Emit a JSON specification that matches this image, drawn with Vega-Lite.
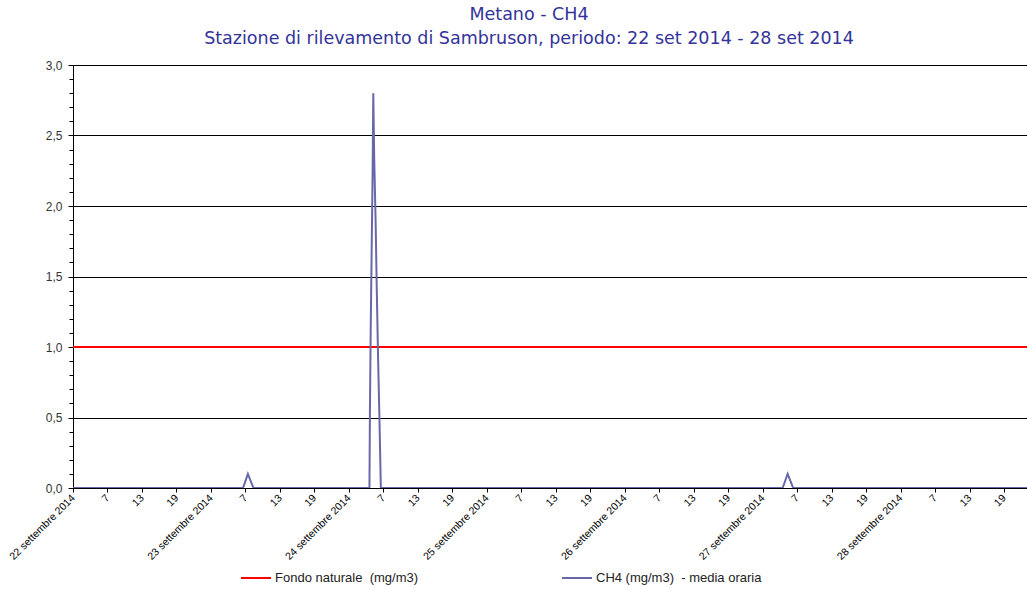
{
  "$schema": "https://vega.github.io/schema/vega-lite/v6.json",
  "width": 954,
  "height": 423,
  "autosize": "none",
  "padding": {"left": 73, "top": 65, "right": 0, "bottom": 102},
  "background": "white",
  "config": {"view": {"stroke": null}, "font": "Liberation Sans"},
  "title": {
    "text": ["Metano - CH4", "Stazione di rilevamento di Sambruson, periodo: 22 set 2014 - 28 set 2014"],
    "anchor": "middle",
    "frame": "group",
    "dx": -21,
    "fontSize": 17.5,
    "font": "DejaVu Sans",
    "fontWeight": "normal",
    "color": "#333399",
    "lineHeight": 24,
    "offset": 12
  },
  "encoding": {
    "x": {
      "field": "t",
      "type": "temporal",
      "scale": {"type": "utc", "domain": [{"year": 2014, "month": 9, "date": 22, "hours": 1, "utc": true}, {"year": 2014, "month": 9, "date": 28, "hours": 23, "utc": true}]},
      "axis": {
        "title": null,
        "grid": false,
        "values": [
          {"year": 2014, "month": 9, "date": 22, "hours": 1, "utc": true}, {"year": 2014, "month": 9, "date": 22, "hours": 7, "utc": true}, {"year": 2014, "month": 9, "date": 22, "hours": 13, "utc": true}, {"year": 2014, "month": 9, "date": 22, "hours": 19, "utc": true},
          {"year": 2014, "month": 9, "date": 23, "hours": 1, "utc": true}, {"year": 2014, "month": 9, "date": 23, "hours": 7, "utc": true}, {"year": 2014, "month": 9, "date": 23, "hours": 13, "utc": true}, {"year": 2014, "month": 9, "date": 23, "hours": 19, "utc": true},
          {"year": 2014, "month": 9, "date": 24, "hours": 1, "utc": true}, {"year": 2014, "month": 9, "date": 24, "hours": 7, "utc": true}, {"year": 2014, "month": 9, "date": 24, "hours": 13, "utc": true}, {"year": 2014, "month": 9, "date": 24, "hours": 19, "utc": true},
          {"year": 2014, "month": 9, "date": 25, "hours": 1, "utc": true}, {"year": 2014, "month": 9, "date": 25, "hours": 7, "utc": true}, {"year": 2014, "month": 9, "date": 25, "hours": 13, "utc": true}, {"year": 2014, "month": 9, "date": 25, "hours": 19, "utc": true},
          {"year": 2014, "month": 9, "date": 26, "hours": 1, "utc": true}, {"year": 2014, "month": 9, "date": 26, "hours": 7, "utc": true}, {"year": 2014, "month": 9, "date": 26, "hours": 13, "utc": true}, {"year": 2014, "month": 9, "date": 26, "hours": 19, "utc": true},
          {"year": 2014, "month": 9, "date": 27, "hours": 1, "utc": true}, {"year": 2014, "month": 9, "date": 27, "hours": 7, "utc": true}, {"year": 2014, "month": 9, "date": 27, "hours": 13, "utc": true}, {"year": 2014, "month": 9, "date": 27, "hours": 19, "utc": true},
          {"year": 2014, "month": 9, "date": 28, "hours": 1, "utc": true}, {"year": 2014, "month": 9, "date": 28, "hours": 7, "utc": true}, {"year": 2014, "month": 9, "date": 28, "hours": 13, "utc": true}, {"year": 2014, "month": 9, "date": 28, "hours": 19, "utc": true}
        ],
        "labelExpr": "utchours(datum.value) == 1 ? utcdate(datum.value) + ' settembre 2014' : '' + utchours(datum.value)",
        "labelAngle": -45,
        "labelAlign": "right",
        "labelBaseline": "middle",
        "labelFontSize": 10.5,
        "labelColor": "#000000",
        "labelPadding": 4,
        "labelOverlap": false,
        "labelFlush": false,
        "labelBound": false,
        "tickColor": "#000000",
        "tickSize": 4,
        "domainColor": "#000000"
      }
    }
  },
  "layer": [
    {
      "data": {"values": [
        {"t": "2014-09-22T00:00Z", "v": 1},
        {"t": "2014-09-29T00:00Z", "v": 1}
      ]},
      "mark": {"type": "line", "strokeWidth": 2, "clip": true},
      "encoding": {
        "y": {
          "field": "v", "type": "quantitative",
          "scale": {"domain": [0, 3], "nice": false, "zero": true},
          "axis": {
            "orient": "left", "title": null, "labels": false, "grid": false, "domain": false,
            "values": [0, 0.1, 0.2, 0.3, 0.4, 0.5, 0.6, 0.7, 0.8, 0.9, 1, 1.1, 1.2, 1.3, 1.4, 1.5, 1.6, 1.7, 1.8, 1.9, 2, 2.1, 2.2, 2.3, 2.4, 2.5, 2.6, 2.7, 2.8, 2.9, 3],
            "tickColor": "#000000", "tickSize": 4
          }
        },
        "color": {
          "datum": "Fondo naturale \u00a0(mg/m3)",
          "type": "nominal",
          "scale": {"domain": ["Fondo naturale \u00a0(mg/m3)", "CH4 (mg/m3) \u00a0- media oraria"], "range": ["#FF0000", "#6868A8"]},
          "legend": {
            "orient": "none", "legendX": 167, "legendY": 497, "direction": "horizontal", "columns": 2,
            "title": null, "symbolType": "stroke", "symbolSize": 900, "symbolStrokeWidth": 2,
            "labelFontSize": 13, "labelColor": "#222222", "columnPadding": 139, "labelOffset": 3, "labelLimit": 400
          }
        }
      }
    },
    {
      "data": {"values": [
        {"t": "2014-09-22T01:00Z", "v": 0}, {"t": "2014-09-22T02:00Z", "v": 0}, {"t": "2014-09-22T03:00Z", "v": 0}, {"t": "2014-09-22T04:00Z", "v": 0}, {"t": "2014-09-22T05:00Z", "v": 0}, {"t": "2014-09-22T06:00Z", "v": 0}, {"t": "2014-09-22T07:00Z", "v": 0}, {"t": "2014-09-22T08:00Z", "v": 0}, {"t": "2014-09-22T09:00Z", "v": 0}, {"t": "2014-09-22T10:00Z", "v": 0}, {"t": "2014-09-22T11:00Z", "v": 0}, {"t": "2014-09-22T12:00Z", "v": 0}, {"t": "2014-09-22T13:00Z", "v": 0}, {"t": "2014-09-22T14:00Z", "v": 0}, {"t": "2014-09-22T15:00Z", "v": 0}, {"t": "2014-09-22T16:00Z", "v": 0}, {"t": "2014-09-22T17:00Z", "v": 0}, {"t": "2014-09-22T18:00Z", "v": 0}, {"t": "2014-09-22T19:00Z", "v": 0}, {"t": "2014-09-22T20:00Z", "v": 0}, {"t": "2014-09-22T21:00Z", "v": 0}, {"t": "2014-09-22T22:00Z", "v": 0}, {"t": "2014-09-22T23:00Z", "v": 0},
        {"t": "2014-09-23T00:00Z", "v": 0}, {"t": "2014-09-23T01:00Z", "v": 0}, {"t": "2014-09-23T02:00Z", "v": 0}, {"t": "2014-09-23T03:00Z", "v": 0}, {"t": "2014-09-23T04:00Z", "v": 0}, {"t": "2014-09-23T05:00Z", "v": 0}, {"t": "2014-09-23T06:00Z", "v": 0}, {"t": "2014-09-23T06:35Z", "v": 0}, {"t": "2014-09-23T07:26Z", "v": 0.1}, {"t": "2014-09-23T08:24Z", "v": 0}, {"t": "2014-09-23T09:00Z", "v": 0}, {"t": "2014-09-23T10:00Z", "v": 0}, {"t": "2014-09-23T11:00Z", "v": 0}, {"t": "2014-09-23T12:00Z", "v": 0}, {"t": "2014-09-23T13:00Z", "v": 0}, {"t": "2014-09-23T14:00Z", "v": 0}, {"t": "2014-09-23T15:00Z", "v": 0}, {"t": "2014-09-23T16:00Z", "v": 0}, {"t": "2014-09-23T17:00Z", "v": 0}, {"t": "2014-09-23T18:00Z", "v": 0}, {"t": "2014-09-23T19:00Z", "v": 0}, {"t": "2014-09-23T20:00Z", "v": 0}, {"t": "2014-09-23T21:00Z", "v": 0}, {"t": "2014-09-23T22:00Z", "v": 0}, {"t": "2014-09-23T23:00Z", "v": 0},
        {"t": "2014-09-24T00:00Z", "v": 0}, {"t": "2014-09-24T01:00Z", "v": 0}, {"t": "2014-09-24T02:00Z", "v": 0}, {"t": "2014-09-24T03:00Z", "v": 0}, {"t": "2014-09-24T04:00Z", "v": 0}, {"t": "2014-09-24T04:35Z", "v": 0}, {"t": "2014-09-24T04:40Z", "v": 0.55}, {"t": "2014-09-24T04:48Z", "v": 1.11}, {"t": "2014-09-24T04:58Z", "v": 1.68}, {"t": "2014-09-24T05:08Z", "v": 2.23}, {"t": "2014-09-24T05:15Z", "v": 2.8}, {"t": "2014-09-24T05:25Z", "v": 2.33}, {"t": "2014-09-24T05:40Z", "v": 1.87}, {"t": "2014-09-24T05:52Z", "v": 1.39}, {"t": "2014-09-24T06:05Z", "v": 0.93}, {"t": "2014-09-24T06:20Z", "v": 0.47}, {"t": "2014-09-24T06:34Z", "v": 0}, {"t": "2014-09-24T07:00Z", "v": 0}, {"t": "2014-09-24T08:00Z", "v": 0}, {"t": "2014-09-24T09:00Z", "v": 0}, {"t": "2014-09-24T10:00Z", "v": 0}, {"t": "2014-09-24T11:00Z", "v": 0}, {"t": "2014-09-24T12:00Z", "v": 0}, {"t": "2014-09-24T13:00Z", "v": 0}, {"t": "2014-09-24T14:00Z", "v": 0}, {"t": "2014-09-24T15:00Z", "v": 0}, {"t": "2014-09-24T16:00Z", "v": 0}, {"t": "2014-09-24T17:00Z", "v": 0}, {"t": "2014-09-24T18:00Z", "v": 0}, {"t": "2014-09-24T19:00Z", "v": 0}, {"t": "2014-09-24T20:00Z", "v": 0}, {"t": "2014-09-24T21:00Z", "v": 0}, {"t": "2014-09-24T22:00Z", "v": 0}, {"t": "2014-09-24T23:00Z", "v": 0},
        {"t": "2014-09-25T00:00Z", "v": 0}, {"t": "2014-09-25T01:00Z", "v": 0}, {"t": "2014-09-25T02:00Z", "v": 0}, {"t": "2014-09-25T03:00Z", "v": 0}, {"t": "2014-09-25T04:00Z", "v": 0}, {"t": "2014-09-25T05:00Z", "v": 0}, {"t": "2014-09-25T06:00Z", "v": 0}, {"t": "2014-09-25T07:00Z", "v": 0}, {"t": "2014-09-25T08:00Z", "v": 0}, {"t": "2014-09-25T09:00Z", "v": 0}, {"t": "2014-09-25T10:00Z", "v": 0}, {"t": "2014-09-25T11:00Z", "v": 0}, {"t": "2014-09-25T12:00Z", "v": 0}, {"t": "2014-09-25T13:00Z", "v": 0}, {"t": "2014-09-25T14:00Z", "v": 0}, {"t": "2014-09-25T15:00Z", "v": 0}, {"t": "2014-09-25T16:00Z", "v": 0}, {"t": "2014-09-25T17:00Z", "v": 0}, {"t": "2014-09-25T18:00Z", "v": 0}, {"t": "2014-09-25T19:00Z", "v": 0}, {"t": "2014-09-25T20:00Z", "v": 0}, {"t": "2014-09-25T21:00Z", "v": 0}, {"t": "2014-09-25T22:00Z", "v": 0}, {"t": "2014-09-25T23:00Z", "v": 0},
        {"t": "2014-09-26T00:00Z", "v": 0}, {"t": "2014-09-26T01:00Z", "v": 0}, {"t": "2014-09-26T02:00Z", "v": 0}, {"t": "2014-09-26T03:00Z", "v": 0}, {"t": "2014-09-26T04:00Z", "v": 0}, {"t": "2014-09-26T05:00Z", "v": 0}, {"t": "2014-09-26T06:00Z", "v": 0}, {"t": "2014-09-26T07:00Z", "v": 0}, {"t": "2014-09-26T08:00Z", "v": 0}, {"t": "2014-09-26T09:00Z", "v": 0}, {"t": "2014-09-26T10:00Z", "v": 0}, {"t": "2014-09-26T11:00Z", "v": 0}, {"t": "2014-09-26T12:00Z", "v": 0}, {"t": "2014-09-26T13:00Z", "v": 0}, {"t": "2014-09-26T14:00Z", "v": 0}, {"t": "2014-09-26T15:00Z", "v": 0}, {"t": "2014-09-26T16:00Z", "v": 0}, {"t": "2014-09-26T17:00Z", "v": 0}, {"t": "2014-09-26T18:00Z", "v": 0}, {"t": "2014-09-26T19:00Z", "v": 0}, {"t": "2014-09-26T20:00Z", "v": 0}, {"t": "2014-09-26T21:00Z", "v": 0}, {"t": "2014-09-26T22:00Z", "v": 0}, {"t": "2014-09-26T23:00Z", "v": 0},
        {"t": "2014-09-27T00:00Z", "v": 0}, {"t": "2014-09-27T01:00Z", "v": 0}, {"t": "2014-09-27T02:00Z", "v": 0}, {"t": "2014-09-27T03:00Z", "v": 0}, {"t": "2014-09-27T04:00Z", "v": 0}, {"t": "2014-09-27T04:29Z", "v": 0}, {"t": "2014-09-27T05:21Z", "v": 0.1}, {"t": "2014-09-27T06:19Z", "v": 0}, {"t": "2014-09-27T07:00Z", "v": 0}, {"t": "2014-09-27T08:00Z", "v": 0}, {"t": "2014-09-27T09:00Z", "v": 0}, {"t": "2014-09-27T10:00Z", "v": 0}, {"t": "2014-09-27T11:00Z", "v": 0}, {"t": "2014-09-27T12:00Z", "v": 0}, {"t": "2014-09-27T13:00Z", "v": 0}, {"t": "2014-09-27T14:00Z", "v": 0}, {"t": "2014-09-27T15:00Z", "v": 0}, {"t": "2014-09-27T16:00Z", "v": 0}, {"t": "2014-09-27T17:00Z", "v": 0}, {"t": "2014-09-27T18:00Z", "v": 0}, {"t": "2014-09-27T19:00Z", "v": 0}, {"t": "2014-09-27T20:00Z", "v": 0}, {"t": "2014-09-27T21:00Z", "v": 0}, {"t": "2014-09-27T22:00Z", "v": 0}, {"t": "2014-09-27T23:00Z", "v": 0},
        {"t": "2014-09-28T00:00Z", "v": 0}, {"t": "2014-09-28T01:00Z", "v": 0}, {"t": "2014-09-28T02:00Z", "v": 0}, {"t": "2014-09-28T03:00Z", "v": 0}, {"t": "2014-09-28T04:00Z", "v": 0}, {"t": "2014-09-28T05:00Z", "v": 0}, {"t": "2014-09-28T06:00Z", "v": 0}, {"t": "2014-09-28T07:00Z", "v": 0}, {"t": "2014-09-28T08:00Z", "v": 0}, {"t": "2014-09-28T09:00Z", "v": 0}, {"t": "2014-09-28T10:00Z", "v": 0}, {"t": "2014-09-28T11:00Z", "v": 0}, {"t": "2014-09-28T12:00Z", "v": 0}, {"t": "2014-09-28T13:00Z", "v": 0}, {"t": "2014-09-28T14:00Z", "v": 0}, {"t": "2014-09-28T15:00Z", "v": 0}, {"t": "2014-09-28T16:00Z", "v": 0}, {"t": "2014-09-28T17:00Z", "v": 0}, {"t": "2014-09-28T18:00Z", "v": 0}, {"t": "2014-09-28T19:00Z", "v": 0}, {"t": "2014-09-28T20:00Z", "v": 0}, {"t": "2014-09-28T21:00Z", "v": 0}, {"t": "2014-09-28T22:00Z", "v": 0}, {"t": "2014-09-28T23:00Z", "v": 0}
      ]},
      "mark": {"type": "line", "strokeWidth": 2, "clip": true},
      "encoding": {
        "y": {
          "field": "v", "type": "quantitative",
          "scale": {"domain": [0, 3], "nice": false, "zero": true},
          "axis": {
            "orient": "left", "title": null,
            "values": [0, 0.5, 1, 1.5, 2, 2.5, 3],
            "labelExpr": "replace(format(datum.value, '.1f'), '.', ',')",
            "labelFontSize": 12, "labelColor": "#333333", "labelPadding": 6,
            "grid": true, "gridColor": "#000000", "gridOpacity": 1, "gridWidth": 1,
            "tickColor": "#000000", "tickSize": 5, "domainColor": "#000000"
          }
        },
        "color": {"datum": "CH4 (mg/m3) \u00a0- media oraria", "type": "nominal"}
      }
    }
  ],
  "resolve": {"axis": {"y": "independent"}}
}
